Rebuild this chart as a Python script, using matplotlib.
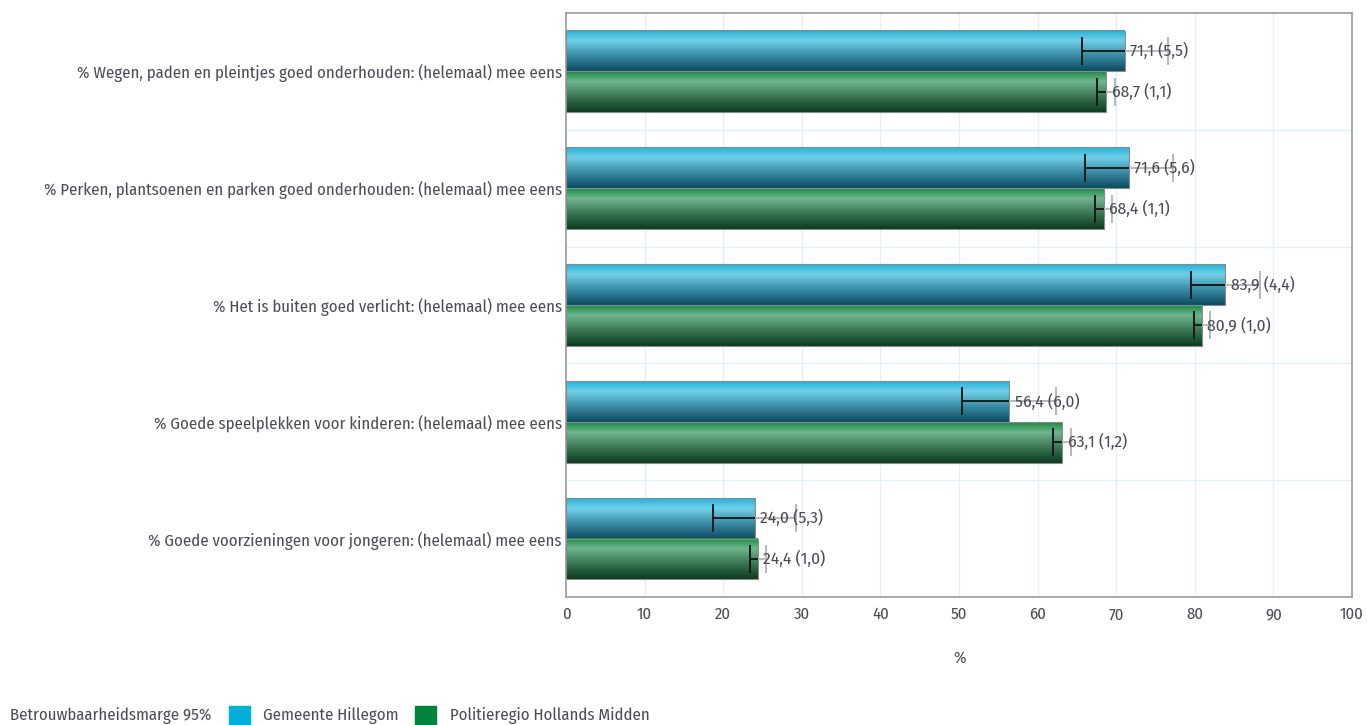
import numpy as np
import matplotlib
matplotlib.use("Agg")
import matplotlib.pyplot as plt
from matplotlib.colors import LinearSegmentedColormap
from matplotlib.patches import Rectangle

categories = [
    "% Wegen, paden en pleintjes goed onderhouden: (helemaal) mee eens",
    "% Perken, plantsoenen en parken goed onderhouden: (helemaal) mee eens",
    "% Het is buiten goed verlicht: (helemaal) mee eens",
    "% Goede speelplekken voor kinderen: (helemaal) mee eens",
    "% Goede voorzieningen voor jongeren: (helemaal) mee eens",
]
hillegom = [71.1, 71.6, 83.9, 56.4, 24.0]
hillegom_err = [5.5, 5.6, 4.4, 6.0, 5.3]
regio = [68.7, 68.4, 80.9, 63.1, 24.4]
regio_err = [1.1, 1.1, 1.0, 1.2, 1.0]
series_names = ["Gemeente Hillegom", "Politieregio Hollands Midden"]
xticks = [0, 10, 20, 30, 40, 50, 60, 70, 80, 90, 100]

FONT = ["Fira Sans Condensed", "DejaVu Sans"]
plt.rcParams['font.family'] = FONT
TXT = "#4b4b55"
FS = 12

blue_cmap = LinearSegmentedColormap.from_list(
    "b", [(0.0, "#1bb4dd"), (0.25, "#72cfe8"), (0.6, "#3b8fa8"), (1.0, "#0b4a60")])
green_cmap = LinearSegmentedColormap.from_list(
    "g", [(0.0, "#168a42"), (0.25, "#70b68e"), (0.6, "#3c7a55"), (1.0, "#0a3b1e")])

fig = plt.figure(figsize=(13.67, 7.25), dpi=100)
ax = fig.add_axes([566/1367, 1-597/725, (1352-566)/1367, (597-13)/725])

n = len(categories)
ax.set_xlim(0, 100)
ax.set_ylim(n - 0.5, -0.5)

h = 0.35
grad = np.linspace(0, 1, 256).reshape(-1, 1)
cap = 0.12

for i in range(n):
    for vals, errs, cmap, off in [(hillegom, hillegom_err, blue_cmap, -h/2),
                                  (regio, regio_err, green_cmap, h/2)]:
        v = vals[i]; e = errs[i]
        yc = i + off
        y0, y1 = yc - h/2, yc + h/2
        ax.imshow(grad, cmap=cmap, aspect='auto', extent=[0, v, y1, y0],
                  interpolation='bilinear', zorder=2)
        ax.add_patch(Rectangle((0, y0), v, h, fill=False, edgecolor="#8a8a8a",
                               lw=0.8, zorder=3))
        # error bar: inner part dark, outer part light grey
        ax.hlines(yc, v - e, v, color="#1a1a1a", lw=1.4, zorder=4)
        ax.vlines(v - e, yc - cap, yc + cap, color="#1a1a1a", lw=1.4, zorder=4)
        ax.hlines(yc, v, v + e, color="#b8b8b8", lw=1.4, zorder=4)
        ax.vlines(v + e, yc - cap, yc + cap, color="#b8b8b8", lw=1.4, zorder=4)
        lab = f"{v:.1f} ({e:.1f})".replace(".", ",")
        ax.annotate(lab, (v, yc), xytext=(4, 0), textcoords="offset points",
                    va="center", ha="left", fontsize=12.5, color=TXT, zorder=5)

ax.set_xticks(xticks)
ax.set_xticklabels([str(t) for t in xticks], fontsize=FS, color=TXT)
ax.set_yticks(range(n))
ax.set_yticklabels(categories, fontsize=FS, color=TXT)
ax.tick_params(axis='both', length=0)
ax.tick_params(axis='x', pad=7)
ax.tick_params(axis='y', pad=3)
for x in xticks[1:-1]:
    ax.axvline(x, color="#dff2fb", lw=1, zorder=1)
for y in np.arange(0.5, n - 0.5, 1):
    ax.axhline(y, color="#dff2fb", lw=1, zorder=1)
for s in ax.spines.values():
    s.set_color("#9a9a9a")
    s.set_linewidth(1.2)
ax.set_xlabel("%", fontsize=FS, color=TXT, labelpad=20)

# legend
ly = 1 - 716/725
fig.text(10/1367, ly, "Betrouwbaarheidsmarge 95%", fontsize=FS, color=TXT, va="center")
fig.patches.append(Rectangle((229/1367, ly - 10/725), 21/1367, 20/725,
                             transform=fig.transFigure, color="#00b0da", figure=fig))
fig.text(263/1367, ly, series_names[0], fontsize=FS, color=TXT, va="center")
fig.patches.append(Rectangle((415/1367, ly - 10/725), 21/1367, 20/725,
                             transform=fig.transFigure, color="#00843d", figure=fig))
fig.text(450/1367, ly, series_names[1], fontsize=FS, color=TXT, va="center")

fig.savefig("out.png", dpi=100)
